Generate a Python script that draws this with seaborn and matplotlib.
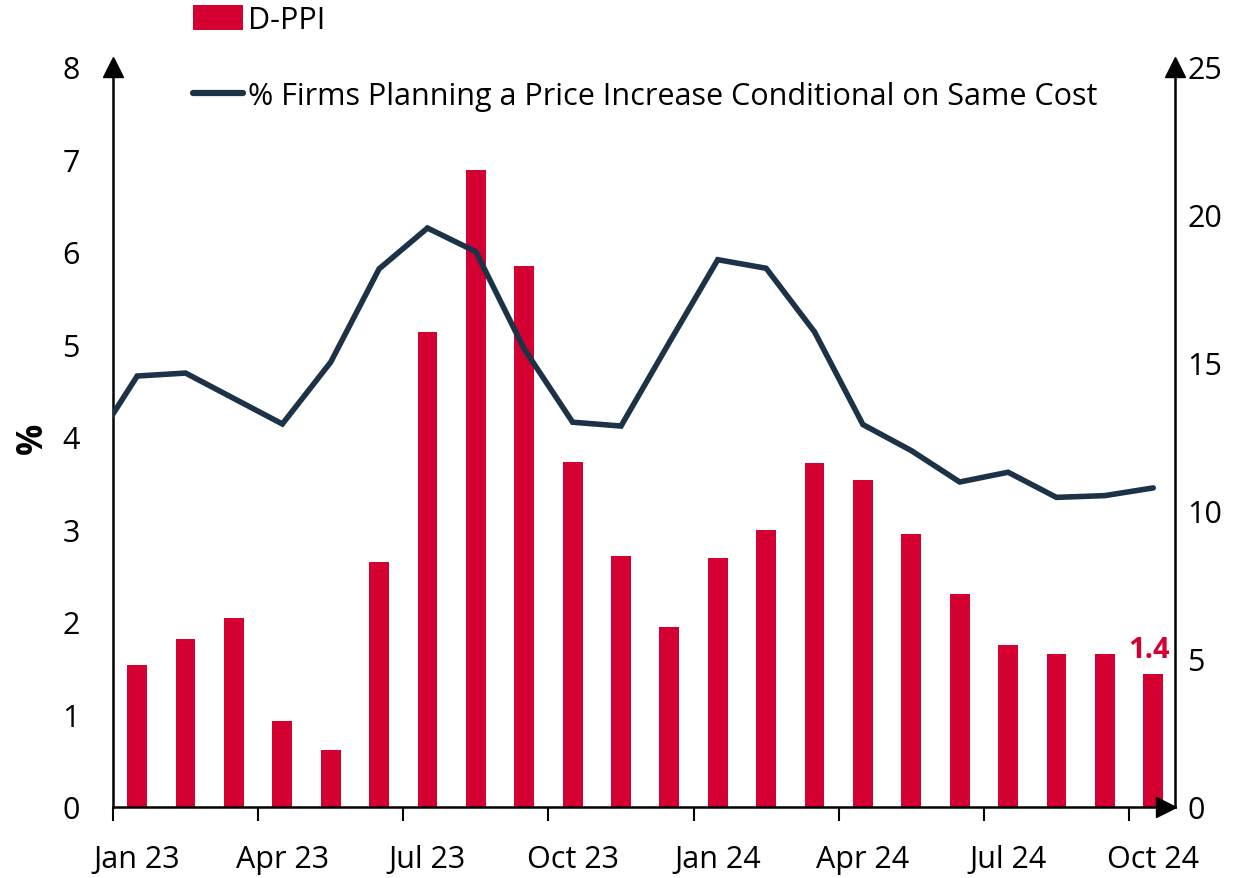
import numpy as np
import pandas as pd
import matplotlib
matplotlib.use("Agg")
import matplotlib.pyplot as plt
import matplotlib.transforms as mtransforms
import seaborn as sns
from matplotlib.lines import Line2D
from matplotlib.patches import Patch

# ---- data ----
months = ["Jan 23", "Feb 23", "Mar 23", "Apr 23", "May 23", "Jun 23", "Jul 23", "Aug 23",
          "Sep 23", "Oct 23", "Nov 23", "Dec 23", "Jan 24", "Feb 24", "Mar 24", "Apr 24",
          "May 24", "Jun 24", "Jul 24", "Aug 24", "Sep 24", "Oct 24"]
dppi = [1.54, 1.82, 2.04, 0.93, 0.62, 2.65, 5.13, 6.89, 5.85, 3.73, 2.71, 1.95,
        2.69, 3.00, 3.72, 3.54, 2.95, 2.30, 1.75, 1.65, 1.65, 1.44]
line_months = ["Dec 22"] + months
firms = [12.0, 14.56, 14.66, 13.8, 12.94, 15.03, 18.18, 19.56, 18.76, 15.47, 13.0, 12.87,
         15.7, 18.49, 18.2, 16.05, 12.92, 12.04, 10.98, 11.31, 10.46, 10.52, 10.78]
tick_labels = ["Jan 23", "Apr 23", "Jul 23", "Oct 23", "Jan 24", "Apr 24", "Jul 24", "Oct 24"]
bar_name = "D-PPI"
line_name = "% Firms Planning a Price Increase Conditional on Same Cost"

RED = "#D40031"
NAVY = "#1C3247"
FS = 22

sns.set_theme(style="white")
plt.rcParams['font.family'] = ['Open Sans', 'DejaVu Sans']
plt.rcParams['text.color'] = 'black'

base = pd.Timestamp("2023-01-01")


def month_index(lbl):
    d = pd.to_datetime(lbl, format="%b %y")
    return (d.year - base.year) * 12 + d.month - base.month


bars = pd.DataFrame({"month": months, "value": dppi})
bars["x"] = bars["month"].map(month_index) + 0.5
line = pd.DataFrame({"month": line_months, "value": firms})
line["x"] = line["month"].map(month_index) + 0.5

fig = plt.figure(figsize=(12.6, 8.79), dpi=100)
ax = fig.add_axes([113 / 1260, 1 - 808 / 879, (1175 - 113) / 1260, (808 - 68) / 879])

sns.barplot(data=bars, x="x", y="value", native_scale=True, width=0.41, color=RED,
            saturation=1, linewidth=0, ax=ax, zorder=2)
ax2 = ax.twinx()
sns.lineplot(data=line, x="x", y="value", ax=ax2, color=NAVY, linewidth=4.0,
             solid_joinstyle="miter", zorder=3)

ax.set_xlim(0, 21.95)
ax.set_ylim(0, 8)
ax2.set_ylim(0, 25)
ax.set_yticks(range(0, 9))
ax2.set_yticks(range(0, 26, 5))

tick_pos = [month_index(t) for t in tick_labels]
ax.set_xticks(tick_pos)
ax.set_xticklabels([""] * len(tick_pos))
ax.set_xticks([p + 0.5 for p in tick_pos], minor=True)
ax.set_xticklabels(tick_labels, minor=True)
ax.tick_params(axis="x", which="major", bottom=True, length=10, width=1.5, color="black", direction="out")
ax.tick_params(axis="x", which="minor", bottom=True, length=0, pad=27, labelsize=FS, labelcolor="black")
ax.tick_params(axis="y", left=True, length=0, pad=24, labelsize=FS, labelcolor="black")
ax2.tick_params(axis="y", right=True, length=0, pad=9, labelsize=FS, labelcolor="black")
ax.set_xlabel("")
ax2.set_xlabel("")
ax2.set_ylabel("")
ax.set_ylabel("%", fontsize=FS + 3, fontweight="bold", labelpad=8, color="black")

for a in (ax, ax2):
    for s in a.spines.values():
        s.set_visible(False)
        s.set_color("black")
        s.set_linewidth(1.8)
ax.spines["left"].set_visible(True)
ax.spines["bottom"].set_visible(True)
ax2.spines["right"].set_visible(True)
ax.grid(False)
ax2.grid(False)

# axis arrows
ax.plot(0, 1, marker="^", color="black", markersize=15, transform=ax.transAxes, clip_on=False, zorder=5)
ax.plot(1, 1, marker="^", color="black", markersize=15, transform=ax.transAxes, clip_on=False, zorder=5)
off = mtransforms.offset_copy(ax.transAxes, fig=fig, x=-9, y=0, units="dots")
ax.plot(1, 0, marker=">", color="black", markersize=15, transform=off, clip_on=False, zorder=5)

# last value label
ax.annotate(f"{dppi[-1]:.1f}", xy=(bars["x"].iloc[-1], dppi[-1]), xytext=(-3, 7),
            textcoords="offset points", ha="center", va="bottom", color=RED,
            fontsize=FS - 1, fontweight="bold")

handles = [Patch(facecolor=RED, edgecolor="none"),
           Line2D([0], [0], color=NAVY, linewidth=4.5, solid_capstyle="round")]
fig.legend(handles, [bar_name, line_name], loc="upper left",
           bbox_to_anchor=(193 / 1260, 1 - 6 / 879), frameon=False, fontsize=FS,
           handlelength=1.65, handleheight=0.85, handletextpad=0.15, labelspacing=1.52,
           borderpad=0, borderaxespad=0, labelcolor="black")

fig.savefig("out.png", dpi=100)
